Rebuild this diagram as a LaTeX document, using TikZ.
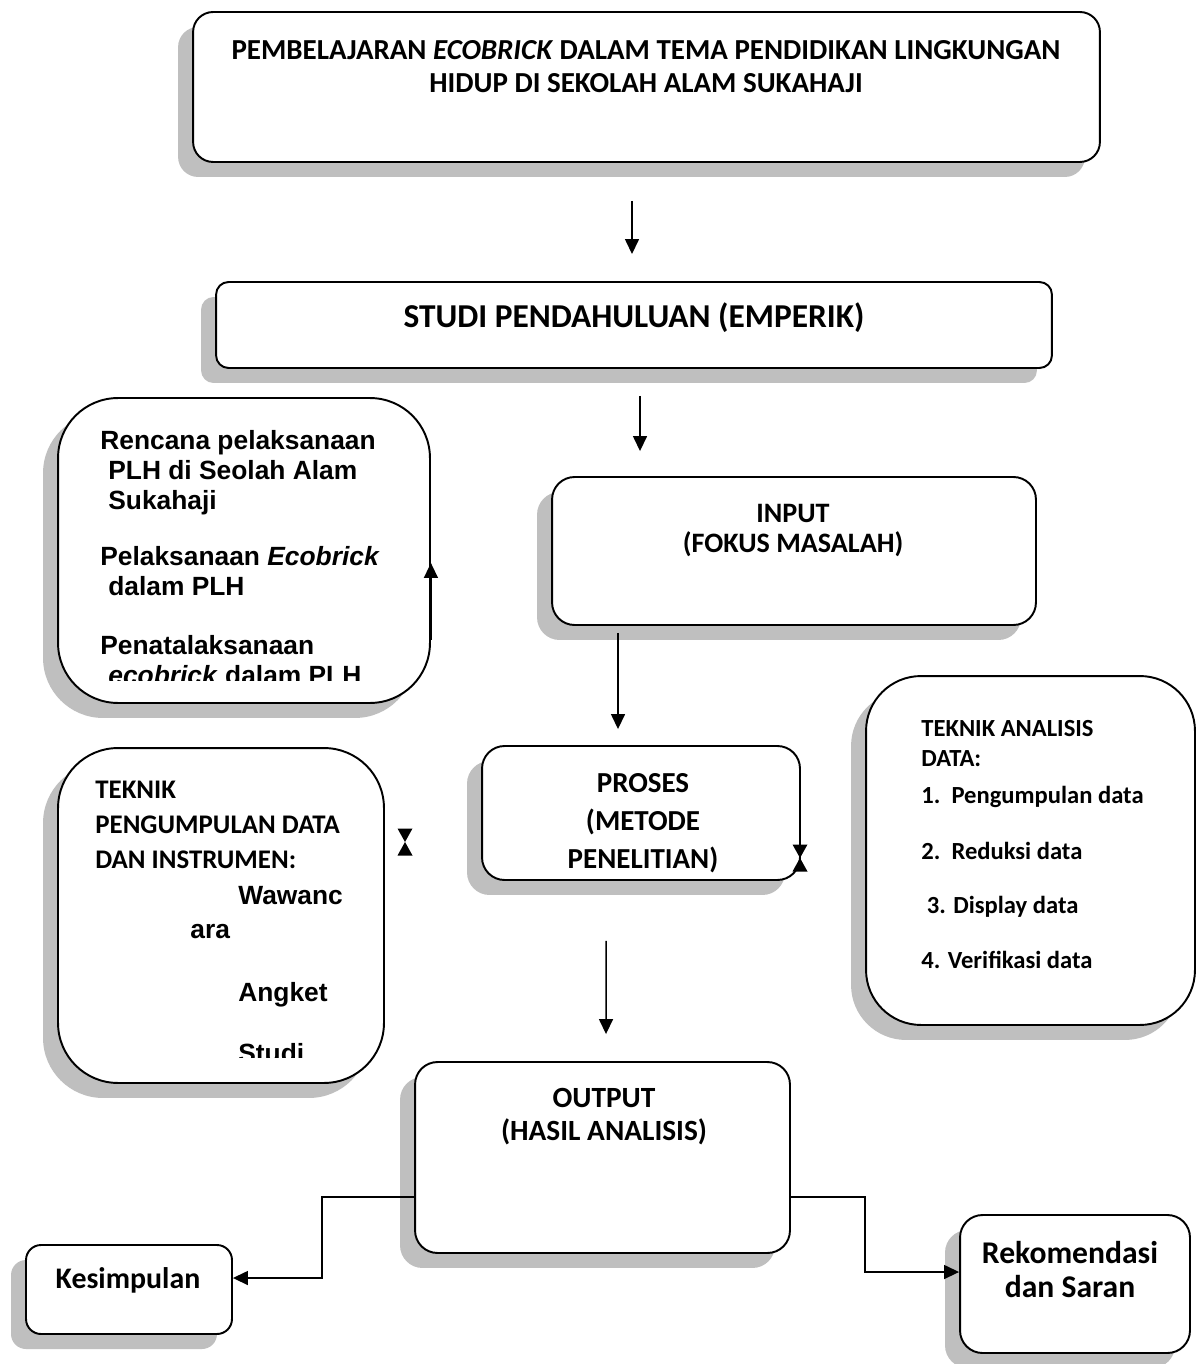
\documentclass[tikz,border=0pt]{standalone}
\usepackage{fontspec}
\setmainfont{Carlito}
\newfontfamily\arialfont{Liberation Sans}
\usetikzlibrary{arrows.meta, positioning, calc, shadows}
\definecolor{shadowgray}{RGB}{191,191,191}

\tikzset{
  flowbox/.style={draw=black, line width=1.1pt, fill=white, rounded corners=#1, inner sep=0pt,
    drop shadow={shadow xshift=-0.3cm, shadow yshift=-0.3cm, fill=shadowgray, opacity=1}},
  flowbox/.default=10pt,
  boxtext/.style={align=center, inner sep=0pt},
  listtext/.style={align=left, inner sep=0pt, anchor=north west},
  arr/.style={-{Triangle[length=0.3cm, width=0.28cm]}, line width=0.85pt},
}
\newcommand{\hourglassmark}[2]{%
  \fill (#1-7.5,#2-13.5) -- (#1+7.5,#2-13.5) -- (#1,#2) -- cycle;
  \fill (#1-7.5,#2+13.5) -- (#1+7.5,#2+13.5) -- (#1,#2) -- cycle;}

\begin{document}
\begin{tikzpicture}[x=0.02cm, y=-0.02cm]
  \fill[white] (0,0) rectangle (1196,1364);
  \useasboundingbox (0,0) rectangle (1196,1364);

  % Judul
  \node[flowbox=0.4cm, minimum width=18.14cm, minimum height=3cm] (judul) at (646.5,87) {};
  \node[boxtext, font=\fontsize{16.5pt}{18.7pt}\selectfont\bfseries] (judultext) at (646,66.5) {
    PEMBELAJARAN \textit{ECOBRICK} DALAM TEMA PENDIDIKAN LINGKUNGAN\\
    HIDUP DI SEKOLAH ALAM SUKAHAJI
  };

  % Studi pendahuluan
  \node[flowbox=0.25cm, minimum width=16.72cm, minimum height=1.72cm] (studi) at (634,325) {};
  \node[boxtext, font=\fontsize{19pt}{21pt}\selectfont\bfseries] (studitext) at (634,318) {STUDI PENDAHULUAN (EMPERIK)};

  % Rencana
  \node[flowbox=1.2cm, minimum width=7.44cm, minimum height=6.1cm] (rencana) at (244,550.5) {};
  \begin{scope}
    \clip (60,400) rectangle (428,680);
    \node[listtext, font=\arialfont\fontsize{15pt}{17pt}\selectfont\bfseries] (rencanatext) at (100,430) {
      Rencana pelaksanaan\\
      \hspace*{0.16cm}PLH di Seolah Alam\\
      \hspace*{0.16cm}Sukahaji\\[15.3pt]
      Pelaksanaan \textit{Ecobrick}\\
      \hspace*{0.16cm}dalam PLH\\[16.4pt]
      Penatalaksanaan\\
      \hspace*{0.16cm}\textit{ecobrick} dalam PLH
    };
  \end{scope}

  % Input
  \node[flowbox=0.45cm, minimum width=9.68cm, minimum height=2.96cm] (input) at (794,551) {};
  \node[boxtext, font=\fontsize{16pt}{17.6pt}\selectfont\bfseries] (inputtext) at (793,530.5) {INPUT\\(FOKUS MASALAH)};

  % Proses
  \node[flowbox=0.45cm, minimum width=6.36cm, minimum height=2.68cm] (proses) at (641,813) {};
  \node[boxtext, font=\fontsize{16.5pt}{21.5pt}\selectfont\bfseries] (prosestext) at (643,823) {PROSES\\(METODE\\PENELITIAN)};

  % Teknik pengumpulan data
  \node[flowbox=1.2cm, minimum width=6.52cm, minimum height=6.7cm] (kumpul) at (221,915.5) {};
  \node[listtext, font=\fontsize{15.3pt}{19.8pt}\selectfont\bfseries] (kumpultext) at (95,781) {
    TEKNIK\\PENGUMPULAN DATA\\DAN INSTRUMEN:
  };
  \node[anchor=base west, inner sep=0pt, font=\arialfont\fontsize{15pt}{17pt}\selectfont\bfseries] (wawanc) at (238,904) {Wawanc};
  \node[anchor=base west, inner sep=0pt, font=\arialfont\fontsize{15pt}{17pt}\selectfont\bfseries] (ara) at (190,938) {ara};
  \node[anchor=base west, inner sep=0pt, font=\arialfont\fontsize{15pt}{17pt}\selectfont\bfseries] (angket) at (238,1001) {Angket};
  \begin{scope}
    \clip (200,1030) rectangle (380,1057);
    \node[anchor=base west, inner sep=0pt, font=\arialfont\fontsize{15pt}{17pt}\selectfont\bfseries] (studi2) at (238,1062) {Studi};
  \end{scope}

  % Teknik analisis data
  \node[flowbox=1.1cm, minimum width=6.58cm, minimum height=6.98cm] (analisis) at (1030.5,850.5) {};
  \node[listtext, font=\fontsize{14pt}{17pt}\selectfont\bfseries] (analisistext) at (921,720) {
    TEKNIK ANALISIS\\
    DATA:\\[4pt]
    1.\ \ Pengumpulan data\\[14.8pt]
    2.\ \ Reduksi data\\[14.2pt]
    \ 3. Display data\\[14.2pt]
    4. Verifikasi data
  };

  % Output
  \node[flowbox=0.45cm, minimum width=7.5cm, minimum height=3.82cm] (output) at (602.5,1157.5) {};
  \node[boxtext, font=\fontsize{16.7pt}{18.7pt}\selectfont\bfseries] (outputtext) at (604,1116.5) {OUTPUT\\(HASIL ANALISIS)};

  % Kesimpulan dan rekomendasi
  \node[flowbox=0.3cm, minimum width=4.12cm, minimum height=1.78cm] (kesimpulan) at (129,1289.5) {};
  \node[boxtext, font=\fontsize{17pt}{19pt}\selectfont\bfseries] (kesimpulantext) at (128,1280) {Kesimpulan};
  \node[flowbox=0.45cm, minimum width=4.6cm, minimum height=2.76cm] (rekomendasi) at (1075,1284) {};
  \node[boxtext, font=\fontsize{18pt}{19.8pt}\selectfont\bfseries] (rekomendasitext) at (1070,1269.5) {Rekomendasi\\dan Saran};

  % Arrows
  \draw[arr] ($(judul.south)+(-14.5,38)$) -- ($(studi.north)+(-2,-27)$);
  \draw[arr] ($(studi.south)+(6,27)$) -- ($(input.north)+(-154,-25)$);
  \draw[arr] ($(input.south)+(-176,7)$) -- ($(proses.north)+(-23,-16)$);
  \draw[arr] ($(proses.south)+(-35,60)$) -- ($(output.north)+(3.5,-27)$);
  \draw[arr] ([yshift=-0.79cm]output.west) -- ++(-92,0) |- ([yshift=0.23cm]kesimpulan.east);
  \draw[arr] ([yshift=-0.79cm]output.east) -- ++(74,0) |- ([yshift=0.24cm]rekomendasi.west);
  \draw[arr] ([yshift=-1.8cm]rencana.east) -- ([yshift=-0.25cm]rencana.east);

  % Hourglass marks
  \hourglassmark{405}{842}
  \hourglassmark{800}{858}
\end{tikzpicture}
\end{document}
